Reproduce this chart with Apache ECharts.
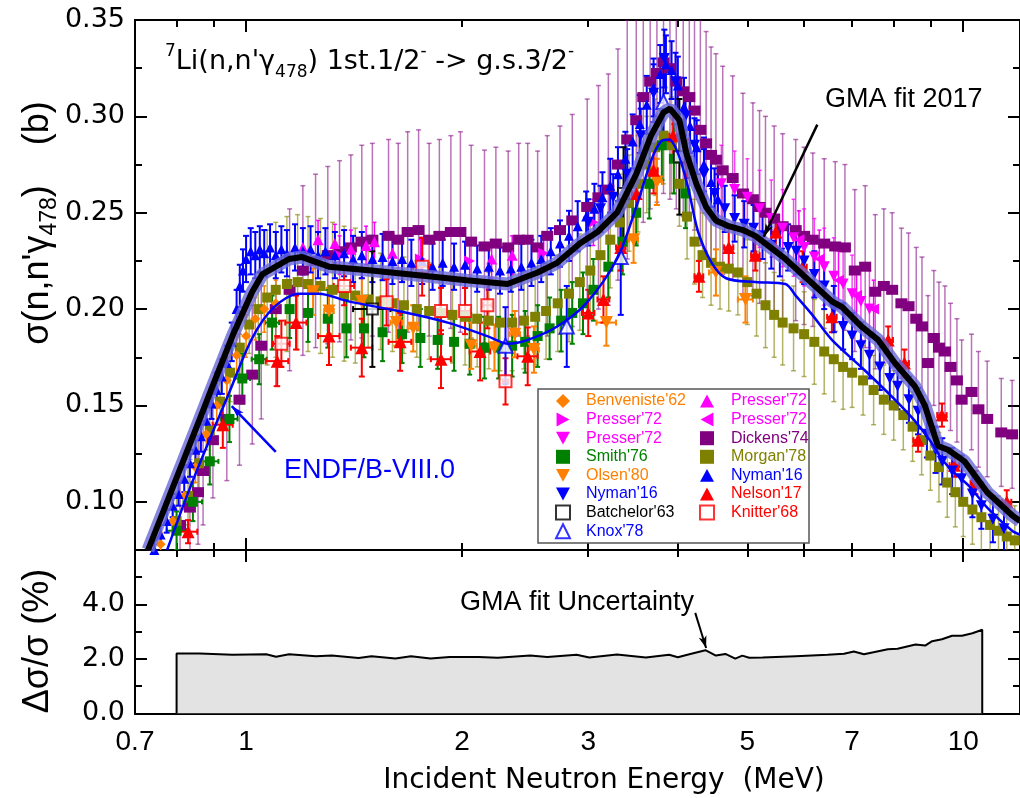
<!DOCTYPE html>
<html><head><meta charset="utf-8">
<script src="https://cdn.jsdelivr.net/npm/echarts@6/dist/echarts.min.js"></script>
<style>html,body{margin:0;padding:0;background:#fff}#c{width:1020px;height:798px}</style>
</head><body><div id="c"></div>
<script>
// ---------------- DATA ----------------
const xLabelVals = [0.7, 1, 2, 3, 5, 7, 10];
const xMajorTicks = [1, 10];
const xMinorTicks = [0.8, 0.9, 2, 3, 4, 5, 6, 7, 8, 9];
const yTopLabels = [0.10, 0.15, 0.20, 0.25, 0.30, 0.35];
const yTopMinor = [0.125, 0.175, 0.225, 0.275, 0.325];
const yBotLabels = [0, 2, 4];
const yBotMajor = [0, 2, 4, 6];
const yBotMinor = [1, 3, 5];

// GMA fit 2017 (E [MeV], sigma [b])
const gmaE = [0.73,0.862,0.898,0.957,1.02,1.053,1.148,1.197,1.305,1.496,1.795,2.03,2.315,2.55,2.715,2.92,3.09,3.29,3.50,3.67,3.82,3.90,4.02,4.11,4.245,4.38,4.52,4.71,4.93,5.13,5.30,5.65,6.09,6.56,6.78,7.21,7.61,8.03,8.56,8.84,9.22,9.52,10.04,10.8,11.7,12];
const gmaS = [0.075,0.143,0.160,0.186,0.209,0.218,0.226,0.227,0.222,0.220,0.217,0.215,0.213,0.219,0.224,0.234,0.240,0.250,0.270,0.290,0.302,0.304,0.298,0.281,0.265,0.253,0.246,0.243,0.241,0.238,0.234,0.226,0.215,0.204,0.201,0.191,0.184,0.172,0.160,0.150,0.129,0.127,0.121,0.105,0.093,0.090];

// ENDF/B-VIII.0
const endfE = [0.776,0.821,0.862,0.948,1.02,1.094,1.185,1.263,1.39,1.63,1.91,2.17,2.32,2.47,2.715,2.98,3.29,3.50,3.68,3.79,3.89,4.01,4.14,4.27,4.46,4.67,5.13,5.65,5.84,6.16,6.56,7.3,8.03,8.56,8.98,9.35,9.72,10.2,10.8,11.7,12];
const endfS = [0.075,0.100,0.120,0.157,0.185,0.201,0.208,0.208,0.204,0.199,0.193,0.186,0.182,0.184,0.191,0.203,0.226,0.253,0.278,0.287,0.288,0.280,0.262,0.240,0.224,0.216,0.214,0.213,0.207,0.197,0.184,0.168,0.153,0.142,0.132,0.122,0.115,0.108,0.097,0.085,0.083];

// GMA fit uncertainty (%)
const uncE = [0.8,0.8,0.862,0.957,1.067,1.101,1.148,1.251,1.317,1.435,1.496,1.615,1.698,1.808,1.922,2.11,2.243,2.49,2.63,2.89,3.01,3.29,3.61,3.89,4.0,4.15,4.37,4.52,4.66,4.81,4.92,5.03,5.25,5.84,6.47,6.82,7.04,7.27,7.85,8.10,8.58,8.85,9.05,9.34,9.65,9.96,10.3,10.63,10.63];
const uncV = [0,2.2,2.2,2.15,2.17,2.08,2.17,2.10,2.12,2.03,2.10,2.01,2.10,2.01,2.07,2.07,2.04,2.12,2.07,2.15,2.05,2.16,2.05,2.15,2.06,2.17,2.32,2.12,2.18,2.01,2.12,2.04,2.05,2.10,2.15,2.19,2.27,2.17,2.35,2.37,2.53,2.49,2.65,2.72,2.85,2.85,2.94,3.07,0];

// Experimental data: [E, sigma, dSigma, dE]
const benveniste62 = [[0.76,0.078,0.006],[0.79,0.09,0.006],[0.82,0.103,0.007],[0.85,0.118,0.008],[0.88,0.135,0.008],[0.91,0.15,0.009],[0.94,0.163,0.01],[0.97,0.176,0.01],[1.0,0.186,0.011],[1.03,0.195,0.011],[1.06,0.2,0.012],[1.1,0.203,0.012]];
const presserR = [[1.35,0.228,0.01],[1.75,0.226,0.01],[2.05,0.225,0.01],[2.6,0.229,0.01],[3.05,0.245,0.012]];
const presserD = [[4.6,0.265,0.02],[4.8,0.262,0.02],[5.0,0.258,0.02],[5.2,0.252,0.02],[5.4,0.247,0.02],[5.6,0.242,0.02],[5.8,0.237,0.02],[6.0,0.232,0.02],[6.2,0.227,0.02],[6.4,0.222,0.02],[6.6,0.217,0.02],[6.8,0.213,0.02],[7.0,0.208,0.02],[7.2,0.204,0.02],[7.4,0.2,0.02]];
const presserU = [[1.2,0.232,0.01],[1.26,0.236,0.01],[1.33,0.234,0.01],[1.4,0.231,0.01],[1.47,0.233,0.01],[1.51,0.235,0.01],[1.6,0.229,0.01],[2.2,0.226,0.01],[2.35,0.228,0.01]];
const presserL = [[5.9,0.236,0.015],[6.3,0.226,0.015],[6.7,0.215,0.015],[7.1,0.207,0.015],[7.5,0.2,0.015]];
const smith76 = [[0.80,0.085,0.01,0.025],[0.843,0.100,0.01,0.025],[0.89,0.121,0.012,0.025],[0.948,0.143,0.012,0.025],[0.988,0.164,0.013,0.025],[1.043,0.174,0.013,0.025],[1.087,0.193,0.014,0.025],[1.15,0.2,0.015],[1.22,0.198,0.015],[1.3,0.195,0.015],[1.38,0.19,0.015],[1.46,0.19,0.015],[1.55,0.188,0.015],[1.65,0.187,0.015],[1.75,0.185,0.015],[1.85,0.184,0.015],[1.95,0.183,0.015],[2.05,0.182,0.016],[2.15,0.18,0.016],[2.25,0.18,0.016],[2.35,0.181,0.016],[2.45,0.183,0.016],[2.55,0.186,0.016],[2.65,0.19,0.016],[2.75,0.194,0.016],[2.85,0.198,0.016],[2.95,0.203,0.016],[3.05,0.21,0.016],[3.2,0.222,0.016],[3.35,0.235,0.017],[3.5,0.25,0.017],[3.65,0.265,0.018],[3.8,0.285,0.018],[3.95,0.278,0.018],[4.1,0.26,0.018]];
const olsen80 = [[1.24,0.209,0.012,0.02],[1.305,0.199,0.012,0.02],[1.45,0.204,0.012,0.025],[1.62,0.193,0.012,0.03],[1.71,0.19,0.012,0.03],[2.06,0.181,0.012,0.035],[2.22,0.18,0.012,0.035],[2.37,0.187,0.012,0.04],[2.52,0.179,0.012,0.04],[3.18,0.193,0.012,0.1],[3.47,0.236,0.012,0.05],[3.74,0.266,0.012,0.06],[4.52,0.219,0.012,0.1],[4.97,0.205,0.012,0.12]];
const nymanDown = [[3.0,0.245,0.012],[3.12,0.252,0.012],[3.25,0.258,0.012],[3.4,0.27,0.013],[3.55,0.29,0.014],[3.7,0.312,0.015],[3.83,0.33,0.015],[3.97,0.318,0.015],[4.1,0.3,0.014],[4.22,0.285,0.014],[4.35,0.27,0.013],[4.5,0.26,0.013],[4.65,0.252,0.012],[4.8,0.247,0.012],[4.95,0.244,0.012],[5.1,0.242,0.012],[5.25,0.238,0.012],[5.4,0.233,0.012],[5.55,0.229,0.012],[5.7,0.232,0.012],[5.85,0.23,0.012],[6.0,0.225,0.012],[6.2,0.218,0.012],[6.4,0.212,0.012],[6.6,0.2,0.012],[6.8,0.191,0.012],[7.0,0.186,0.012],[7.2,0.181,0.012],[7.4,0.176,0.012],[7.65,0.17,0.012],[7.9,0.164,0.012],[8.1,0.16,0.012],[8.4,0.153,0.012],[8.65,0.147,0.012],[8.9,0.135,0.012],[9.15,0.127,0.012],[9.35,0.121,0.012],[9.65,0.116,0.012],[9.95,0.112,0.012],[10.3,0.104,0.012],[10.6,0.098,0.012],[11.0,0.091,0.012],[11.4,0.086,0.012]];
const batchelor63 = [[1.50,0.200,0.03,0.09],[3.36,0.26,0.024],[4.02,0.279,0.03]];
const knox78 = [[2.30,0.181,0.02],[2.80,0.191,0.021],[3.33,0.227,0.03],[3.82,0.3075,0.02]];
const dickens74 = [[0.809,0.088,0.025],[0.835,0.097,0.025],[0.857,0.105,0.027],[0.871,0.116,0.028],[0.899,0.132,0.03],[0.94,0.143,0.032],[0.979,0.153,0.034],[1.02,0.166,0.036],[1.05,0.181,0.038],[1.10,0.200,0.04],[1.15,0.210,0.042],[1.2,0.220,0.044],[1.25,0.225,0.045],[1.3,0.228,0.046],[1.35,0.230,0.047],[1.4,0.232,0.048],[1.45,0.235,0.05],[1.5,0.236,0.05],[1.58,0.238,0.05],[1.63,0.236,0.05],[1.68,0.240,0.052],[1.74,0.241,0.052],[1.80,0.236,0.05],[1.86,0.238,0.05],[1.93,0.240,0.05],[1.99,0.240,0.052],[2.06,0.235,0.05],[2.15,0.2325,0.05],[2.23,0.234,0.05],[2.32,0.232,0.05],[2.40,0.236,0.05],[2.47,0.236,0.05],[2.55,0.232,0.05],[2.63,0.238,0.052],[2.74,0.241,0.054],[2.85,0.246,0.055],[2.99,0.253,0.056],[3.10,0.258,0.058],[3.20,0.262,0.06],[3.30,0.275,0.06],[3.40,0.288,0.062],[3.50,0.298,0.064],[3.58,0.31,0.065],[3.66,0.318,0.066],[3.74,0.3225,0.067],[3.82,0.328,0.068],[3.90,0.325,0.068],[3.98,0.318,0.066],[4.07,0.313,0.065],[4.15,0.31,0.064],[4.22,0.303,0.062],[4.30,0.293,0.06],[4.38,0.286,0.058],[4.45,0.28,0.056],[4.52,0.2775,0.055],[4.62,0.272,0.054],[4.77,0.268,0.053],[4.93,0.26,0.052],[5.09,0.257,0.05],[5.2,0.253,0.05],[5.3,0.25,0.05],[5.45,0.247,0.048],[5.6,0.243,0.048],[5.84,0.241,0.047],[6.0,0.238,0.046],[6.17,0.236,0.045],[6.4,0.234,0.044],[6.63,0.2325,0.044],[6.84,0.232,0.043],[7.06,0.22,0.042],[7.3,0.222,0.042],[7.54,0.209,0.04],[7.75,0.212,0.04],[7.96,0.21,0.04],[8.2,0.203,0.039],[8.39,0.2015,0.038],[8.6,0.195,0.037],[8.76,0.191,0.036],[8.93,0.172,0.035],[9.1,0.185,0.035],[9.25,0.18,0.034],[9.43,0.178,0.034],[9.6,0.17,0.033],[9.8,0.163,0.032],[9.95,0.153,0.031],[10.27,0.157,0.03],[10.5,0.148,0.03],[10.8,0.143,0.03],[11.3,0.136,0.028],[11.7,0.135,0.028]];
const morgan78 = [[0.8,0.09,0.015],[0.83,0.103,0.015],[0.86,0.12,0.015],[0.89,0.137,0.015],[0.92,0.152,0.015],[0.95,0.167,0.015],[0.98,0.18,0.015],[1.01,0.192,0.015],[1.04,0.2,0.015],[1.07,0.206,0.035],[1.1,0.21,0.035],[1.14,0.213,0.035],[1.18,0.214,0.035],[1.22,0.213,0.035],[1.27,0.212,0.035],[1.32,0.21,0.035],[1.37,0.208,0.035],[1.42,0.207,0.035],[1.48,0.205,0.025],[1.54,0.204,0.025],[1.6,0.203,0.025],[1.66,0.202,0.025],[1.73,0.2,0.025],[1.8,0.199,0.025],[1.87,0.198,0.025],[1.94,0.197,0.025],[2.02,0.196,0.025],[2.1,0.195,0.025],[2.18,0.194,0.025],[2.26,0.193,0.025],[2.35,0.193,0.025],[2.44,0.194,0.025],[2.53,0.196,0.025],[2.62,0.199,0.025],[2.72,0.203,0.025],[2.82,0.208,0.025],[2.92,0.214,0.025],[3.02,0.22,0.025],[3.12,0.228,0.025],[3.22,0.236,0.025],[3.32,0.245,0.025],[3.42,0.255,0.025],[3.52,0.265,0.025],[3.62,0.275,0.025],[3.72,0.284,0.025],[3.82,0.29,0.025],[3.92,0.285,0.025],[4.02,0.265,0.022],[4.12,0.248,0.022],[4.22,0.235,0.022],[4.33,0.228,0.022],[4.45,0.224,0.022],[4.58,0.222,0.022],[4.71,0.221,0.022],[4.85,0.219,0.022],[5.0,0.214,0.022],[5.15,0.208,0.022],[5.3,0.202,0.022],[5.45,0.197,0.022],[5.6,0.193,0.022],[5.8,0.19,0.022],[6.0,0.187,0.022],[6.2,0.183,0.022],[6.4,0.178,0.022],[6.6,0.174,0.022],[6.8,0.17,0.022],[7.0,0.167,0.018],[7.25,0.163,0.018],[7.5,0.158,0.018],[7.75,0.153,0.018],[8.0,0.15,0.018],[8.25,0.145,0.018],[8.5,0.139,0.018],[8.75,0.132,0.018],[9.0,0.124,0.018],[9.25,0.118,0.018],[9.5,0.11,0.018],[9.75,0.105,0.018],[10.0,0.1,0.018],[10.3,0.096,0.018],[10.6,0.092,0.018],[10.9,0.088,0.018],[11.2,0.085,0.018],[11.5,0.082,0.018],[11.8,0.08,0.018]];
const nymanUp = [[0.745,0.075,0.005],[0.76,0.083,0.005],[0.775,0.09,0.006],[0.79,0.098,0.006],[0.805,0.104,0.006],[0.82,0.112,0.007],[0.835,0.12,0.007],[0.85,0.127,0.007],[0.865,0.134,0.008],[0.88,0.142,0.008],[0.895,0.151,0.008],[0.91,0.158,0.009],[0.925,0.165,0.009],[0.94,0.172,0.009],[0.955,0.183,0.01],[0.97,0.2,0.01],[0.98,0.212,0.011],[0.99,0.22,0.011],[1.0,0.226,0.012],[1.015,0.23,0.012],[1.03,0.228,0.012],[1.045,0.231,0.012],[1.06,0.229,0.012],[1.08,0.232,0.012],[1.1,0.228,0.012],[1.12,0.231,0.012],[1.14,0.229,0.012],[1.17,0.232,0.012],[1.2,0.23,0.012],[1.23,0.231,0.012],[1.26,0.228,0.012],[1.29,0.23,0.012],[1.33,0.228,0.012],[1.37,0.229,0.012],[1.41,0.226,0.012],[1.45,0.228,0.012],[1.5,0.226,0.012],[1.55,0.227,0.012],[1.6,0.225,0.012],[1.65,0.226,0.012],[1.7,0.224,0.012],[1.76,0.225,0.012],[1.82,0.222,0.012],[1.88,0.224,0.012],[1.95,0.222,0.012],[2.02,0.223,0.012],[2.1,0.221,0.012],[2.18,0.222,0.012],[2.26,0.22,0.012],[2.34,0.221,0.012],[2.42,0.222,0.012],[2.5,0.224,0.012],[2.58,0.226,0.012],[2.66,0.23,0.012],[2.74,0.234,0.012],[2.82,0.238,0.013],[2.9,0.243,0.013],[2.98,0.248,0.013],[3.06,0.252,0.013],[3.14,0.258,0.013],[3.22,0.264,0.014],[3.3,0.27,0.014],[3.38,0.278,0.014],[3.46,0.287,0.014],[3.54,0.296,0.015],[3.62,0.306,0.015],[3.7,0.315,0.015],[3.78,0.322,0.015],[3.85,0.327,0.015],[3.92,0.324,0.015],[4.0,0.316,0.015],[4.08,0.305,0.015],[4.16,0.295,0.014],[4.25,0.284,0.014],[4.35,0.275,0.014],[4.45,0.266,0.013],[4.55,0.257,0.013]];
const nelson17 = [[0.83,0.0845,0.006,0.025],[0.928,0.140,0.012,0.03],[1.105,0.173,0.013,0.04],[1.174,0.193,0.014,0.04],[1.305,0.186,0.015,0.045],[1.45,0.180,0.015,0.05],[1.64,0.183,0.015,0.06],[1.87,0.174,0.015,0.06],[2.12,0.178,0.015,0.07],[2.47,0.1755,0.015,0.08],[3.0,0.198,0.012,0.06],[3.15,0.205,0.012,0.06],[3.33,0.232,0.012,0.05],[3.5,0.26,0.012,0.05],[3.7,0.272,0.012,0.05],[3.94,0.29,0.012,0.05],[4.12,0.278,0.01,0.05],[4.28,0.217,0.008,0.06],[4.71,0.232,0.01,0.07],[5.13,0.228,0.008,0.07],[5.48,0.240,0.008,0.08],[5.97,0.222,0.008,0.08],[6.56,0.196,0.008,0.1],[7.86,0.184,0.007,0.12],[8.28,0.172,0.007,0.12],[8.65,0.132,0.006,0.13],[9.34,0.145,0.006,0.14],[9.72,0.119,0.006,0.15],[10.4,0.110,0.006,0.16],[11.5,0.100,0.006,0.17]];
const knitter68 = [[1.12,0.182,0.012,0.03],[1.37,0.212,0.01,0.045],[1.57,0.2035,0.012,0.04],[1.76,0.222,0.015,0.05],[1.87,0.199,0.012,0.03],[2.02,0.199,0.012,0.03],[2.17,0.202,0.012,0.03],[2.30,0.1625,0.012,0.02]];

// ---------------- STYLE / HELPERS ----------------
const FONT = "'Liberation Sans', Arial, Helvetica, sans-serif";
const FONT_W = "'DejaVu Sans', 'Liberation Sans', Arial, sans-serif";
const C = {orange:'#FF8000', magenta:'#FF00FF', green:'#008000', blue:'#0000FF', purple:'#800080', olive:'#808000', red:'#FF0000', black:'#000000'};
const pair = (xs, ys) => xs.map((x, i) => [x, ys[i]]);
const ICON = {
  down:'path://M0,0 L12,0 L6,11 Z',
  right:'path://M0,0 L11,6 L0,12 Z',
  left:'path://M11,0 L0,6 L11,12 Z',
  up:'path://M6,0 L12,11 L0,11 Z',
  sq:'path://M0,0 L10,0 L10,10 L0,10 Z'
};

function xAx(grid, pos, ticks, len, labels) {
  return { type:'log', logBase:10, gridIndex:grid, min:0.7, max:12, position:pos,
    axisLine:{show:true, onZero:false, lineStyle:{color:'#000', width:2}},
    axisTick:{show:true, inside:true, length:len, customValues:ticks, lineStyle:{color:'#000', width:2}},
    axisLabel: labels ? {show:true, customValues:labels, fontSize:28, fontFamily:FONT, color:'#000', margin:15} : {show:false},
    splitLine:{show:false}, minorTick:{show:false}, minorSplitLine:{show:false} };
}
function yAx(grid, pos, min, max, ticks, len, labels, dec) {
  return { type:'value', gridIndex:grid, min:min, max:max, position:pos,
    axisLine:{show:true, onZero:false, lineStyle:{color:'#000', width:2}},
    axisTick:{show:true, inside:true, length:len, customValues:ticks, lineStyle:{color:'#000', width:2}},
    axisLabel: labels ? {show:true, customValues:labels, fontSize:27, fontFamily:FONT_W, color:'#000', margin:10,
      formatter: v => Number(v).toFixed(dec)} : {show:false},
    splitLine:{show:false} };
}
function errBars(data, color, lw, cap) {
  return { type:'custom', xAxisIndex:0, yAxisIndex:0, clip:true, silent:true, data:data,
    encode:{x:0, y:1},
    renderItem: (params, api) => {
      const x = api.value(0), y = api.value(1), e = api.value(2), ex = api.value(3);
      const st = {stroke:color, lineWidth:lw};
      const ch = [];
      if (e > 0) {
        const a = api.coord([x, y + e]), b = api.coord([x, y - e]);
        ch.push({type:'line', shape:{x1:a[0], y1:a[1], x2:b[0], y2:b[1]}, style:st});
        if (cap > 0) {
          ch.push({type:'line', shape:{x1:a[0]-cap, y1:a[1], x2:a[0]+cap, y2:a[1]}, style:st});
          ch.push({type:'line', shape:{x1:b[0]-cap, y1:b[1], x2:b[0]+cap, y2:b[1]}, style:st});
        }
      }
      if (ex > 0) {
        const l = api.coord([x - ex, y]), r = api.coord([x + ex, y]);
        ch.push({type:'line', shape:{x1:l[0], y1:l[1], x2:r[0], y2:r[1]}, style:st});
        if (cap > 0) {
          ch.push({type:'line', shape:{x1:l[0], y1:l[1]-cap, x2:l[0], y2:l[1]+cap}, style:st});
          ch.push({type:'line', shape:{x1:r[0], y1:r[1]-cap, x2:r[0], y2:r[1]+cap}, style:st});
        }
      }
      return {type:'group', children:ch};
    } };
}
function pts(name, data, symbol, size, color, rot, extra) {
  return Object.assign({ type:'scatter', name:name, xAxisIndex:0, yAxisIndex:0, silent:true, clip:true,
    data:data.map(d => [d[0], d[1]]), symbol:symbol, symbolSize:size, symbolRotate:rot || 0,
    itemStyle:{color:color, opacity:1}, emphasis:{disabled:true} }, extra || {});
}

const series = [
  errBars(dickens74, 'rgba(128,0,128,0.55)', 1.5, 2.5),
  errBars(morgan78, 'rgba(128,128,0,0.6)', 1.5, 2.5),
  errBars(smith76, C.green, 2, 2.5),
  errBars(presserU, C.magenta, 1.5, 2),
  errBars(presserR, C.magenta, 1.5, 2),
  errBars(presserD, 'rgba(255,0,255,0.75)', 1.5, 2),
  errBars(presserL, C.magenta, 1.5, 2),
  errBars(benveniste62, C.orange, 1.5, 2),
  errBars(olsen80, C.orange, 2, 3),
  errBars(nelson17, C.red, 2, 3),
  errBars(nymanUp, C.blue, 2, 3),
  errBars(nymanDown, C.blue, 2, 3),
  pts("Dickens'74", dickens74, 'rect', [12, 10], C.purple),
  pts("Morgan'78", morgan78, 'rect', 10, C.olive),
  pts("Smith'76", smith76, 'rect', 10, C.green),
  pts("Presser'72  ", presserU, 'triangle', 11, C.magenta),
  pts("Presser'72", presserR, 'triangle', 11, C.magenta, -90),
  pts("Presser'72 ", presserD, 'triangle', 11, C.magenta, 180),
  pts("Presser'72   ", presserL, 'triangle', 11, C.magenta, 90),
  pts("Benveniste'62", benveniste62, 'diamond', 10, C.orange),
  pts("Olsen'80", olsen80, 'triangle', 13, C.orange, 180),
  pts("Nelson'17", nelson17, 'triangle', 13, C.red),
  pts("Nyman'16 ", nymanUp, 'triangle', 10, C.blue),
  pts("Nyman'16", nymanDown, 'triangle', 11, C.blue, 180),
  { type:'line', name:'GMA band', xAxisIndex:0, yAxisIndex:0, data:pair(gmaE, gmaS), showSymbol:false, silent:true,
    lineStyle:{color:'rgba(105,105,215,0.8)', width:13} },
  { type:'line', name:'GMA fit 2017', xAxisIndex:0, yAxisIndex:0, data:pair(gmaE, gmaS), showSymbol:false, silent:true,
    lineStyle:{color:'#000', width:6},
    markLine:{silent:true, symbol:['none','arrow'], symbolSize:[6, 13], label:{show:false},
      lineStyle:{color:'#000', width:2.5, type:'solid'},
      data:[[{coord:[6.26, 0.2957]}, {coord:[5.27, 0.2375]}]] } },
  { type:'line', name:'ENDF/B-VIII.0', xAxisIndex:0, yAxisIndex:0, data:pair(endfE, endfS), showSymbol:false, silent:true, smooth:0.3,
    lineStyle:{color:C.blue, width:2.5},
    markLine:{silent:true, symbol:['none','arrow'], symbolSize:[6, 13], label:{show:false},
      lineStyle:{color:C.blue, width:2.5, type:'solid'},
      data:[[{coord:[1.10, 0.1259]}, {coord:[0.955, 0.1497]}]] } },
  errBars(knitter68, C.red, 2, 3),
  errBars(batchelor63, C.black, 2, 3),
  errBars(knox78, C.blue, 2, 3),
  pts("Knitter'68", knitter68, 'emptyRect', 12, C.red, 0, {itemStyle:{color:C.red, borderWidth:2.5}}),
  pts("Batchelor'63", batchelor63, 'emptyRect', 11, C.black, 0, {itemStyle:{color:C.black, borderWidth:2}}),
  pts("Knox'78", knox78, 'emptyTriangle', 14, C.blue, 0, {itemStyle:{color:C.blue, borderWidth:2}}),
  { type:'line', name:'GMA unc', xAxisIndex:4, yAxisIndex:4, data:pair(uncE, uncV), showSymbol:false, silent:true,
    lineStyle:{color:'#000', width:2}, areaStyle:{color:'#e3e3e3', opacity:1},
    markLine:{silent:true, symbol:['none','arrow'], symbolSize:[6, 12], label:{show:false},
      lineStyle:{color:'#000', width:2, type:'solid'},
      data:[[{coord:[4.23, 3.69]}, {coord:[4.38, 2.4]}]] } }
];

const colorOf = {"Benveniste'62":C.orange, "Presser'72":C.magenta, "Presser'72 ":C.magenta, "Smith'76":C.green, "Olsen'80":C.orange,
  "Nyman'16":C.blue, "Batchelor'63":C.black, "Knox'78":C.blue, "Presser'72  ":C.magenta, "Presser'72   ":C.magenta,
  "Dickens'74":C.purple, "Morgan'78":C.olive, "Nyman'16 ":C.blue, "Nelson'17":C.red, "Knitter'68":C.red};
const iconOf = {"Presser'72":ICON.right, "Presser'72 ":ICON.down, "Olsen'80":ICON.down, "Nyman'16":ICON.down,
  "Presser'72   ":ICON.left, "Presser'72  ":ICON.up, "Nyman'16 ":ICON.up, "Nelson'17":ICON.up,
  "Smith'76":ICON.sq, "Dickens'74":ICON.sq, "Morgan'78":ICON.sq};
const legendCol1 = ["Benveniste'62", "Presser'72", "Presser'72 ", "Smith'76", "Olsen'80", "Nyman'16", "Batchelor'63", "Knox'78"];
const legendCol2 = ["Presser'72  ", "Presser'72   ", "Dickens'74", "Morgan'78", "Nyman'16 ", "Nelson'17", "Knitter'68"];
const legendItems = names => names.map(n => {
  const it = {name:n, textStyle:{color:colorOf[n]}};
  if (iconOf[n]) { it.icon = iconOf[n]; it.itemStyle = {color:colorOf[n], borderWidth:0}; }
  return it;
});
const legendBase = { orient:'vertical', top:393, itemWidth:14, itemHeight:14, itemGap:2.6, selectedMode:false, padding:0, z:5,
  formatter: n => n.trim() };

const option = {
  animation:false,
  backgroundColor:'#fff',
  textStyle:{fontFamily:FONT},
  grid:[
    {left:135, top:20, width:892, height:530},
    {left:135, top:550, width:892, height:163.3}
  ],
  xAxis:[
    xAx(0, 'bottom', xMinorTicks, 7),
    xAx(0, 'bottom', xMajorTicks, 12),
    xAx(0, 'top', xMinorTicks, 7),
    xAx(0, 'top', xMajorTicks, 12),
    xAx(1, 'bottom', xMinorTicks, 7, xLabelVals),
    xAx(1, 'bottom', xMajorTicks, 12),
    xAx(1, 'top', xMinorTicks, 7),
    xAx(1, 'top', xMajorTicks, 12)
  ],
  yAxis:[
    yAx(0, 'left', 0.075, 0.35, yTopLabels, 12, yTopLabels, 2),
    yAx(0, 'left', 0.075, 0.35, yTopMinor, 7),
    yAx(0, 'right', 0.075, 0.35, yTopLabels, 12),
    yAx(0, 'right', 0.075, 0.35, yTopMinor, 7),
    yAx(1, 'left', 0, 6, yBotMajor, 12, yBotLabels, 1),
    yAx(1, 'left', 0, 6, yBotMinor, 7),
    yAx(1, 'right', 0, 6, yBotMajor, 12),
    yAx(1, 'right', 0, 6, yBotMinor, 7)
  ],
  legend:[
    Object.assign({}, legendBase, {left:555, textStyle:{fontSize:16, fontFamily:FONT, padding:[0,0,0,11]}, data:legendItems(legendCol1)}),
    Object.assign({}, legendBase, {left:699, textStyle:{fontSize:16, fontFamily:FONT, padding:[0,0,0,12]}, data:legendItems(legendCol2)})
  ],
  graphic:[
    {type:'rect', z:3, shape:{x:538, y:389, width:271, height:154}, style:{fill:'#fff', stroke:'#555', lineWidth:1.5}},
    {type:'text', z:6, x:165, y:62, style:{
      text:"{sup|7}{a|Li(n,n'γ}{sub|478}{a|) 1st.1/2}{sup|-}{a| -> g.s.3/2}{sup|-}",
      verticalAlign:'middle', align:'left',
      rich:{a:{fontSize:27, fontFamily:FONT_W, lineHeight:38, fill:'#000'},
            sup:{fontSize:17, fontFamily:FONT_W, lineHeight:17, verticalAlign:'top', fill:'#000'},
            sub:{fontSize:17, fontFamily:FONT_W, lineHeight:17, verticalAlign:'bottom', fill:'#000'}} }},
    {type:'text', z:6, x:825, y:100, style:{text:'GMA fit 2017', fontSize:27, fontFamily:FONT, fill:'#000', verticalAlign:'middle', align:'left'}},
    {type:'text', z:6, x:284, y:471, style:{text:'ENDF/B-VIII.0', fontSize:27, fontFamily:FONT, fill:C.blue, verticalAlign:'middle', align:'left'}},
    {type:'text', z:6, x:460, y:603, style:{text:'GMA fit Uncertainty', fontSize:27, fontFamily:FONT, fill:'#000', verticalAlign:'middle', align:'left'}},
    {type:'text', z:6, x:604, y:781, style:{text:'Incident Neutron Energy  (MeV)', fontSize:28, fontFamily:FONT_W, fill:'#000', verticalAlign:'middle', align:'center'}},
    {type:'text', z:6, x:38, y:223, rotation:Math.PI/2, style:{
      text:"{a|σ(n,n'γ}{sub|478}{a|)    (b)}", verticalAlign:'middle', align:'center',
      rich:{a:{fontSize:36, fontFamily:FONT, lineHeight:46, fill:'#000'},
            sub:{fontSize:23, fontFamily:FONT, lineHeight:23, verticalAlign:'bottom', fill:'#000'}} }},
    {type:'text', z:6, x:38, y:641, rotation:Math.PI/2, style:{text:'Δσ/σ (%)', fontSize:36, fontFamily:FONT, fill:'#000', verticalAlign:'middle', align:'center'}}
  ],
  series:series
};
const chart = echarts.init(document.getElementById('c'), null, {renderer:'canvas', width:1020, height:798});
chart.setOption(option);
</script></body></html>
